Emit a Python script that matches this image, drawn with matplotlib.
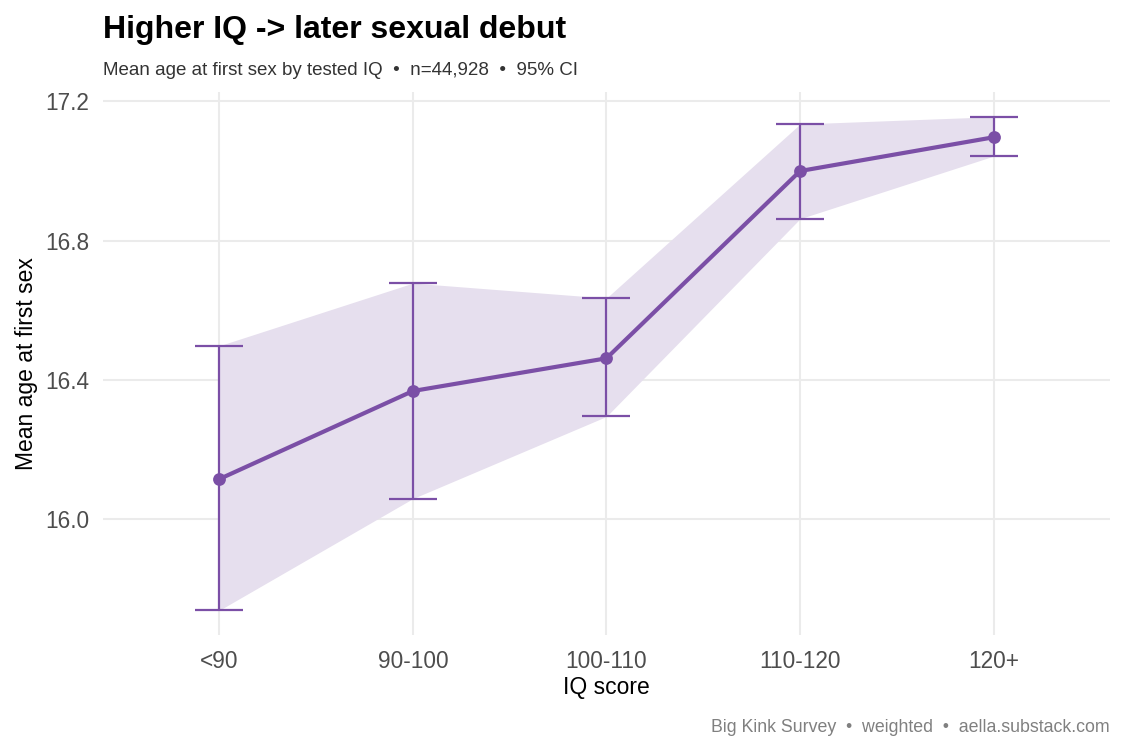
import matplotlib
matplotlib.use("Agg")
import matplotlib.pyplot as plt
import numpy as np

plt.rcParams['font.family'] = ['Liberation Sans', 'DejaVu Sans']

# data
iq_groups = ['<90', '90-100', '100-110', '110-120', '120+']
mean_age = [16.115, 16.368, 16.462, 17.000, 17.097]
ci_low = [15.738, 16.059, 16.295, 16.863, 17.043]
ci_high = [16.498, 16.678, 16.635, 17.135, 17.156]
y_ticks = [16.0, 16.4, 16.8, 17.2]

purple = '#7B4FA6'
ribbon = '#E6DFEE'

fig = plt.figure(figsize=(11.25, 7.5), dpi=100)
ax = fig.add_axes([0.0916, 0.1533, 0.895, 0.724])

x = np.arange(len(iq_groups))
mean_age = np.array(mean_age)
ci_low = np.array(ci_low)
ci_high = np.array(ci_high)

ax.fill_between(x, ci_low, ci_high, color=ribbon, lw=0, zorder=2)
ax.errorbar(x, mean_age, yerr=[mean_age - ci_low, ci_high - mean_age],
            fmt='none', ecolor=purple, elinewidth=1.6, capsize=17, capthick=1.6, zorder=3)
ax.plot(x, mean_age, color=purple, lw=3, zorder=4)
ax.scatter(x, mean_age, s=85, color=purple, zorder=5, lw=0)

ax.set_xlim(-0.6, len(iq_groups) - 0.4)
span = ci_high.max() - ci_low.min()
ax.set_ylim(ci_low.min() - 0.05 * span, ci_high.max() + 0.05 * span)
ax.set_xticks(x)
ax.set_xticklabels(iq_groups)
ax.set_yticks(y_ticks)
ax.set_yticklabels([f'{v:.1f}' for v in y_ticks])

for s in ax.spines.values():
    s.set_visible(False)
ax.grid(True, color='#EBEBEB', lw=1.5, zorder=0)
ax.set_axisbelow(True)
ax.tick_params(length=0, labelsize=16.3, colors='#4D4D4D')
ax.tick_params(axis='y', pad=10)
ax.tick_params(axis='x', pad=11)

ax.set_xlabel('IQ score', fontsize=16.5, color='black', labelpad=2)
ax.set_ylabel('Mean age at first sex', fontsize=16.5, color='black', labelpad=5)

fig.text(0.0916, 0.9493, 'Higher IQ -> later sexual debut', fontsize=23,
         fontweight='bold', ha='left', va='baseline')
fig.text(0.0916, 0.9, 'Mean age at first sex by tested IQ  \u2022  n=44,928  \u2022  95% CI',
         fontsize=13.5, color='#333333', ha='left', va='baseline')
fig.text(0.9867, 0.024, 'Big Kink Survey  \u2022  weighted  \u2022  aella.substack.com',
         fontsize=12.8, color='#808080', ha='right', va='baseline')

fig.savefig('out.png', dpi=100, facecolor='white')
